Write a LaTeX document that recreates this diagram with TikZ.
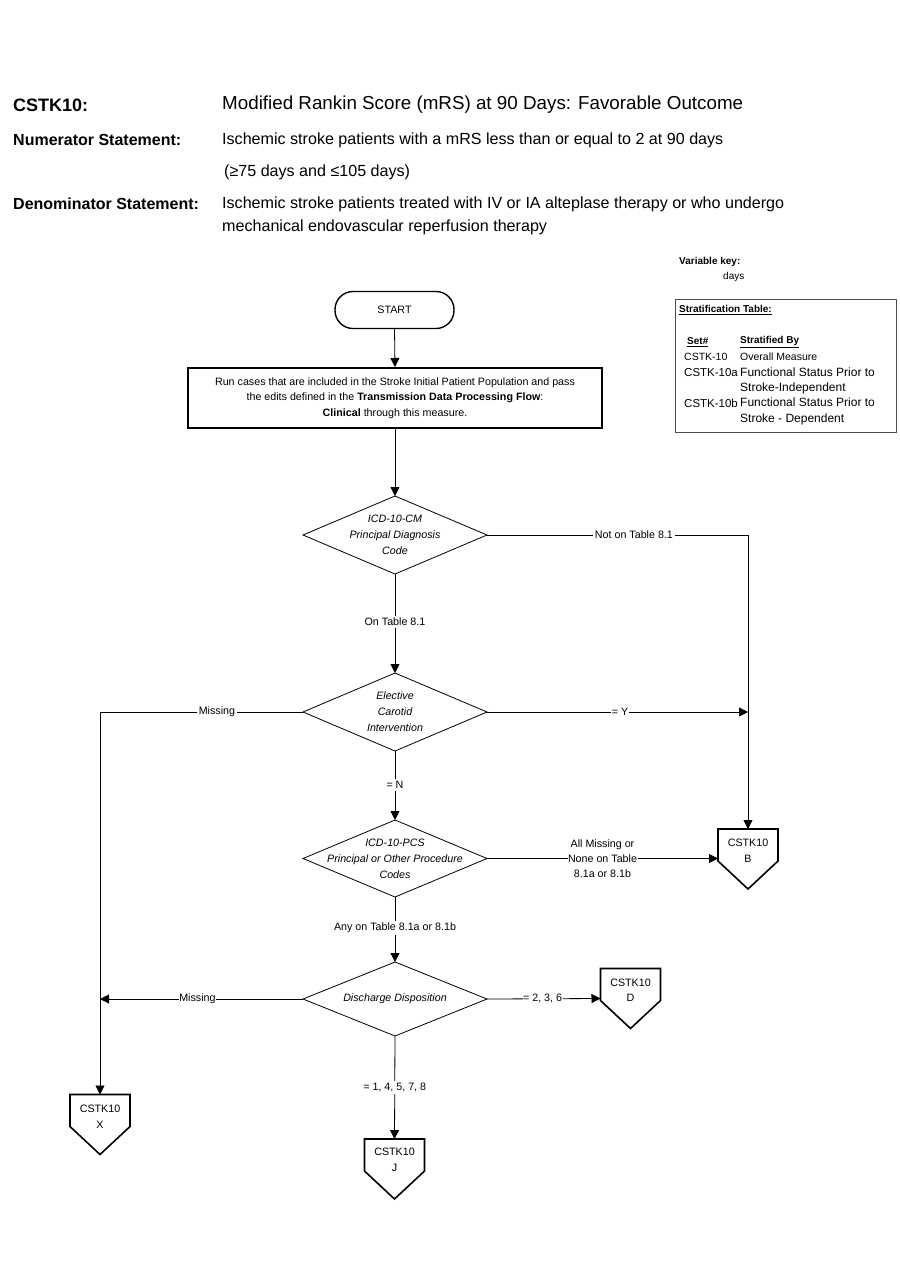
\documentclass[tikz,border=0pt]{standalone}
\usepackage{fontspec}
\setmainfont{Liberation Sans}
\usetikzlibrary{arrows.meta,calc}
\tikzset{
  txt/.style={font=\fontsize{10.7}{15.5}\selectfont, align=center, inner sep=0pt},
  itx/.style={font=\fontsize{10.7}{16}\selectfont\itshape, align=center, inner sep=0pt},
  lbl/.style={font=\fontsize{10.7}{15}\selectfont, align=center, inner sep=2pt, fill=white},
  ln/.style={line width=0.8pt, draw=black},
  arr/.style={line width=0.8pt, draw=black, -{Triangle[length=9pt,width=9pt]}},
  diabox/.style={minimum width=184pt, inner sep=0pt, outer sep=0pt},
  opcbox/.style={minimum width=60pt, minimum height=60pt, inner sep=0pt, outer sep=0pt},
  opcline/.style={line width=1.6pt, line join=miter},
  hb/.style={font=\bfseries\fontsize{16}{19}\selectfont, anchor=west, inner sep=0pt},
  hr/.style={font=\fontsize{16.1}{19}\selectfont, anchor=west, inner sep=0pt},
  tb/.style={font=\fontsize{10}{12}\selectfont, anchor=west, inner sep=0pt},
  tw/.style={font=\fontsize{12}{15.5}\selectfont, anchor=north west, align=left, inner sep=0pt},
}
\newcommand\drawdia[1]{\draw[ln] (#1.north) -- (#1.east) -- (#1.south) -- (#1.west) -- cycle;}
\newcommand\drawopc[1]{\draw[opcline] (#1.north west) -- (#1.north east) -- ($(#1.north east)+(0,32)$) -- (#1.south) -- ($(#1.north west)+(0,32)$) -- cycle;}
\begin{document}
\begin{tikzpicture}[x=1pt,y=-1pt]
\useasboundingbox[fill=white] (0,0) rectangle (900,1286);

% header
\node[hb, font=\bfseries\fontsize{18}{21}\selectfont] (h1) at (13,105) {CSTK10:};
\node[hr, font=\fontsize{18.8}{21}\selectfont] (h1t) at (222,105) {Modified Rankin Score (mRS) at 90 Days: Favorable Outcome};
\node[hb] (h2) at (13,140) {Numerator Statement:};
\node[hr] (h2t) at (222,140) {Ischemic stroke patients with a mRS less than or equal to 2 at 90 days};
\node[hr] (h2u) at (224,172) {(≥75 days and ≤105 days)};
\node[hb] (h3) at (13,204) {Denominator Statement:};
\node[hr] (h3t) at (222,204) {Ischemic stroke patients treated with IV or IA alteplase therapy or who undergo};
\node[hr] (h3u) at (222,227) {mechanical endovascular reperfusion therapy};

% variable key
\node[tb, font=\bfseries\fontsize{10}{12}\selectfont] (vk) at (679,262) {Variable key:};
\node[tb] (vkd) at (723,277) {days};

% stratification table
\draw[line width=1pt, draw=black!70] (675,299) rectangle (896,432);
\node[tb, font=\bfseries\fontsize{10}{12}\selectfont] (st) at (679,310) {\underline{Stratification Table:}};
\node[tb, font=\bfseries\fontsize{10}{12}\selectfont] (sh1) at (687,342) {\underline{Set\#}};
\node[tb, font=\bfseries\fontsize{10}{12}\selectfont] (sh2) at (740,342) {\underline{Stratified By}};
\node[tb, font=\fontsize{10.5}{12}\selectfont] (r1a) at (684,357) {CSTK-10};
\node[tb, font=\fontsize{10.5}{12}\selectfont] (r1b) at (740,357) {Overall Measure};
\node[tb, font=\fontsize{11.5}{12}\selectfont] (r2a) at (684,373) {CSTK-10a};
\node[tw] (r2b) at (740,367.5) {Functional Status Prior to\\Stroke-Independent};
\node[tb, font=\fontsize{11.5}{12}\selectfont] (r3a) at (684,403) {CSTK-10b};
\node[tw] (r3b) at (740,398) {Functional Status Prior to\\Stroke - Dependent};

% start
\node[txt, draw, line width=1.4pt, rounded corners=18pt, minimum width=119pt, minimum height=37pt] (start) at (394.5,310) {START};

% process
\node[txt, draw, line width=2pt, minimum width=414pt, minimum height=60pt] (proc) at (395,398)
 {Run cases that are included in the Stroke Initial Patient Population and pass\\
  the edits defined in the \textbf{Transmission Data Processing Flow}:\\
  \textbf{Clinical} through this measure.};

% diamonds
\node[diabox, minimum height=78pt, itx] (d1) at (395,535) {ICD-10-CM\\Principal Diagnosis\\Code};
\node[diabox, minimum height=78pt, itx] (d2) at (395,712) {Elective\\Carotid\\Intervention};
\node[diabox, minimum height=77pt, itx] (d3) at (395,858.5) {ICD-10-PCS\\Principal or Other Procedure\\Codes};
\node[diabox, minimum height=74pt, itx] (d4) at (395,999) {Discharge Disposition};
\drawdia{d1}\drawdia{d2}\drawdia{d3}\drawdia{d4}

% off-page connectors
\node[opcbox] (B) at (748,859) {};
\node[opcbox] (D) at (630.5,998.5) {};
\node[opcbox] (X) at (100,1124.5) {};
\node[opcbox] (J) at (394.5,1169) {};
\drawopc{B}\drawopc{D}\drawopc{X}\drawopc{J}
\node[txt] (Bt) at ($(B.north)+(0,22)$) {CSTK10\\B};
\node[txt] (Dt) at ($(D.north)+(0,22)$) {CSTK10\\D};
\node[txt] (Xt) at ($(X.north)+(0,22)$) {CSTK10\\X};
\node[txt] (Jt) at ($(J.north)+(0,21)$) {CSTK10\\J};

% connectors
\draw[arr] (start.south) -- (proc.north);
\draw[arr] (proc.south) -- (d1.north);
\draw[arr] (d1.south) -- node[lbl, pos=0.485] {On Table 8.1} (d2.north);
\draw[arr] (d1.east) -- node[lbl, pos=0.563] {Not on Table 8.1} (d1.east -| B.north) -- (B.north);
\draw[arr] (d2.east) -- node[lbl, inner sep=0.5pt, pos=0.51] {= Y} (d2.east -| B.north);
\draw[arr] (d2.west) -- node[lbl, pos=0.424] {Missing} (d2.west -| X.north) -- (X.north);
\draw[arr] (d2.south) -- node[lbl, pos=0.49] {= N} (d3.north);
\draw[arr] (d3.east) -- node[lbl, inner sep=0.5pt, pos=0.5] {All Missing or\\None on Table\\8.1a or 8.1b} (d3.east -| B.west);
\draw[arr] (d3.south) -- node[lbl, pos=0.48] {Any on Table 8.1a or 8.1b} (d4.north);
\draw[arr] (d4.west) -- node[lbl, inner sep=0.5pt, pos=0.52] {Missing} (d4.west -| X.north);
\draw[arr] (d4.east) -- node[lbl, inner sep=0.5pt, pos=0.49] {= 2, 3, 6} (D.west);
\draw[arr] (d4.south) -- node[lbl, pos=0.5] {= 1, 4, 5, 7, 8} (J.north);
\end{tikzpicture}
\end{document}
